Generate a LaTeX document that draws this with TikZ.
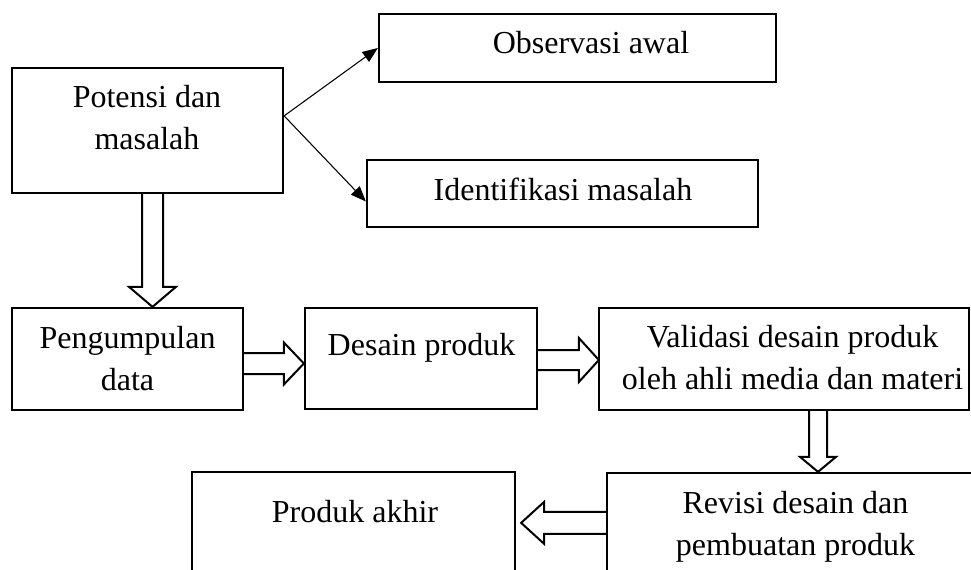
\documentclass[tikz,border=0pt]{standalone}
\usepackage{fontspec}
\setmainfont{Liberation Serif}
\usetikzlibrary{calc,arrows.meta,fit}

% Hollow block arrow from #1 to #2: shaft half width #3, head half width #4, head length #5
\newcommand\blockarrow[5]{%
  \coordinate (#1h) at ($(#2)!#5!(#1)$);
  \draw[blockarr] ($(#1)!#3!90:(#2)$)
    -- ($(#1h)!#3!90:(#2)$)
    -- ($(#1h)!#4!90:(#2)$)
    -- (#2)
    -- ($(#1h)!#4!-90:(#2)$)
    -- ($(#1h)!#3!-90:(#2)$)
    -- ($(#1)!#3!-90:(#2)$);}

\begin{document}
\begin{tikzpicture}[x=0.75pt,y=-0.75pt,
  box/.style={draw,line width=1.7pt,inner sep=0pt},
  lbl/.style={anchor=base,inner sep=0pt,font=\fontsize{24}{31.5}\selectfont},
  thinarr/.style={line width=0.8pt,-{Triangle[length=11.5pt,width=9pt]}},
  blockarr/.style={line width=1.5pt,line join=miter}]

\useasboundingbox (0,0) rectangle (971,570);
\clip (0,0) rectangle (971,570);

% boxes
\node[box,fit={(12,68) (283,193)}] (potensi) {};
\node[box,fit={(379,14) (776,82)}] (obs) {};
\node[box,fit={(367,160) (758,227)}] (ident) {};
\node[box,fit={(12,308) (243,410)}] (kumpul) {};
\node[box,fit={(305,308) (537,409)}] (desain) {};
\node[box,fit={(599,308) (969,410)}] (valid) {};
\node[box,fit={(607,473) (1000,600)}] (revisi) {};
\node[box,fit={(192,472) (515,600)}] (produk) {};

% labels
\node[lbl] (potensi-t) at (147,108) {\begin{tabular}[t]{@{}c@{}}Potensi dan\\masalah\end{tabular}};
\node[lbl] (obs-t) at (591,54) {Observasi awal};
\node[lbl] (ident-t) at (563,201) {Identifikasi masalah};
\node[lbl] (kumpul-t) at (127.5,349) {\begin{tabular}[t]{@{}c@{}}Pengumpulan\\data\end{tabular}};
\node[lbl] (desain-t) at (421.5,355) {Desain produk};
\node[lbl] (valid-t) at (792.5,348) {\begin{tabular}[t]{@{}c@{}}Validasi desain produk\\oleh ahli media dan materi\end{tabular}};
\node[lbl] (revisi-t) at (795.5,513) {\begin{tabular}[t]{@{}c@{}}Revisi desain dan\\pembuatan produk\end{tabular}};
\node[lbl] (produk-t) at (355,522) {Produk akhir};

% thin arrows
\coordinate (t0) at ($(potensi.north east)+(0,49)$);
\coordinate (t2) at ($(ident.west)+(0,8)$);
\draw[thinarr] (t0) -- (obs.west);
\draw[thinarr] (t0) -- (t2);

% block arrows
\coordinate (a1s) at ($(potensi.south)+(5,0)$);
\coordinate (a1e) at (a1s |- kumpul.north);
\blockarrow{a1s}{a1e}{7.875pt}{17.6pt}{15pt}

\coordinate (a2s) at ($(kumpul.east)+(0,4.5)$);
\coordinate (a2e) at (a2s -| desain.west);
\blockarrow{a2s}{a2e}{7.875pt}{15.75pt}{15pt}

\coordinate (a3s) at ($(desain.east)+(0,1.5)$);
\coordinate (a3e) at ($(a3s -| valid.west)+(1,0)$);
\blockarrow{a3s}{a3e}{7.5pt}{16.5pt}{15pt}

\coordinate (a4s) at ($(valid.south)+(34,0)$);
\coordinate (a4e) at (a4s |- revisi.north);
\blockarrow{a4s}{a4e}{6.75pt}{13.5pt}{11.25pt}

\coordinate (a5s) at ($(revisi.north west)+(0,51)$);
\coordinate (a5e) at ($(a5s -| produk.east)+(5,0)$);
\blockarrow{a5s}{a5e}{8.25pt}{15.75pt}{17.25pt}

\end{tikzpicture}
\end{document}
